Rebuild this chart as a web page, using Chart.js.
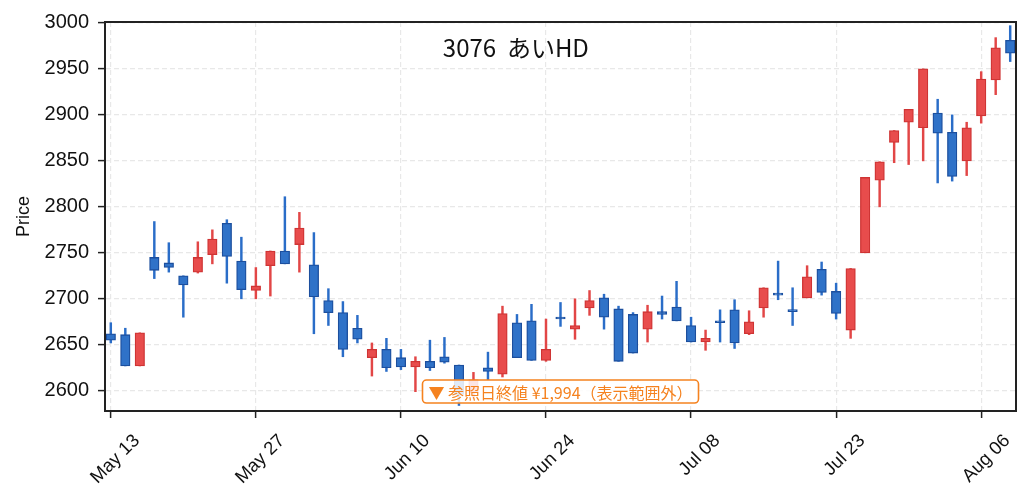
<!DOCTYPE html>
<html>
<head>
<meta charset="utf-8">
<title>3076 あいHD</title>
<script src="https://cdn.jsdelivr.net/npm/chart.js@4.4.0/dist/chart.umd.min.js"></script>
<style>
  html, body { margin: 0; padding: 0; background: #fff; }
  #wrap { width: 1031px; height: 500px; }
</style>
</head>
<body>
<div id="wrap"><canvas id="candleChart" width="1031" height="500"></canvas></div>
<script>
// daily candles, trading days only
const dates = [
  'May 13','May 14','May 15','May 16','May 17','May 20','May 21','May 22','May 23','May 24',
  'May 27','May 28','May 29','May 30','May 31','Jun 03','Jun 04','Jun 05','Jun 06','Jun 07',
  'Jun 10','Jun 11','Jun 12','Jun 13','Jun 14','Jun 17','Jun 18','Jun 19','Jun 20','Jun 21',
  'Jun 24','Jun 25','Jun 26','Jun 27','Jun 28','Jul 01','Jul 02','Jul 03','Jul 04','Jul 05',
  'Jul 08','Jul 09','Jul 10','Jul 11','Jul 12','Jul 16','Jul 17','Jul 18','Jul 19','Jul 22',
  'Jul 23','Jul 24','Jul 25','Jul 26','Jul 29','Jul 30','Jul 31','Aug 01','Aug 02','Aug 05',
  'Aug 06','Aug 07','Aug 08'
];
const opens = [
  2662,2661,2627,2745,2739,2725,2729,2748,2782,2741,
  2709,2736,2752,2759,2737,2698,2685,2668,2636,2645,
  2636,2626,2632,2637,2628,2598,2625,2618,2674,2676,
  2633,2679,2667,2690,2701,2689,2683,2667,2686,2691,
  2671,2653,2675,2688,2662,2690,2706,2687,2701,2732,
  2708,2666,2750,2829,2870,2892,2886,2902,2881,2850,
  2899,2938,2981
];
const highs = [
  2674,2668,2663,2784,2761,2725,2762,2775,2786,2767,
  2734,2752,2811,2794,2772,2711,2697,2682,2652,2657,
  2645,2637,2655,2658,2628,2620,2642,2692,2683,2694,
  2678,2696,2700,2709,2705,2692,2685,2693,2703,2719,
  2680,2666,2688,2699,2687,2712,2741,2712,2736,2740,
  2717,2733,2832,2849,2883,2906,2950,2917,2900,2892,
  2947,2984,2997
];
const lows = [
  2652,2627,2627,2722,2729,2680,2728,2738,2717,2700,
  2700,2703,2738,2729,2662,2671,2637,2652,2616,2621,
  2623,2599,2622,2630,2584,2592,2612,2615,2636,2633,
  2632,2670,2656,2682,2667,2632,2641,2653,2678,2676,
  2653,2644,2653,2646,2661,2680,2699,2671,2701,2704,
  2678,2657,2750,2800,2848,2846,2850,2826,2828,2834,
  2891,2922,2958
];
const closes = [
  2655,2627,2663,2731,2734,2715,2745,2765,2746,2710,
  2714,2752,2738,2777,2702,2685,2645,2656,2645,2625,
  2626,2632,2625,2631,2596,2612,2621,2684,2636,2633,
  2645,2678,2671,2698,2680,2632,2641,2686,2683,2676,
  2653,2657,2674,2652,2675,2712,2704,2686,2724,2707,
  2684,2733,2832,2849,2883,2906,2950,2880,2833,2886,
  2939,2973,2967
];
const xTicks = [0, 10, 20, 30, 40, 50, 60];
const yTicks = [2600, 2650, 2700, 2750, 2800, 2850, 2900, 2950, 3000];
const titleText = '3076  あいHD';
const refClose = 1994;

const upFill = '#e84c4c', upLine = '#cf3434', upWick = '#e24646';
const downFill = '#2f72c8', downLine = '#1c4f9e', downWick = '#2a6dc8';

const isUp = opens.map((o, i) => closes[i] >= o);
const bodyData = opens.map((o, i) => ({ x: i, y: [o, closes[i]] }));
const wickData = lows.map((l, i) => ({ x: i, y: [l, highs[i]] }));

// frame, title and the out-of-range note
const overlay = {
  id: 'overlay',
  afterDraw(chart) {
    const { ctx, chartArea: a } = chart;
    const w = a.right - a.left, h = a.bottom - a.top;
    ctx.save();
    ctx.setLineDash([]);
    ctx.strokeStyle = '#222';
    ctx.lineWidth = 2;
    ctx.strokeRect(a.left, a.top, w, h);

    ctx.fillStyle = '#111';
    ctx.font = '24px "Noto Sans CJK JP"';
    ctx.textAlign = 'center';
    ctx.textBaseline = 'middle';
    ctx.fillText(titleText, a.left + 0.451 * w, a.top + 0.067 * h);

    const note = '▼ 参照日終値 ¥' + refClose.toLocaleString('en-US') + '（表示範囲外）';
    ctx.font = '16px "Noto Sans CJK JP"';
    const tw = ctx.measureText(note).width;
    const bw = tw + 12, bh = 23;
    const cx = (a.left + a.right) / 2, cy = a.bottom - 0.05 * h;
    ctx.beginPath();
    ctx.roundRect(cx - bw / 2, cy - bh / 2, bw, bh, 4);
    ctx.fillStyle = 'rgba(255,255,255,0.85)';
    ctx.fill();
    ctx.strokeStyle = '#f5821f';
    ctx.lineWidth = 1.6;
    ctx.stroke();
    ctx.fillStyle = '#f5821f';
    ctx.textAlign = 'left';
    ctx.fillText(note, cx - bw / 2 + 6, cy + 1);
    ctx.restore();
  }
};

const gridOpts = {
  color: '#e8e8e8',
  lineWidth: 1.2,
  tickLength: 7,
  tickColor: '#222',
  tickWidth: 1.5,
  tickBorderDash: [],
  offset: false
};
const borderOpts = { display: true, color: '#222', width: 2, dash: [5, 3] };

const chart = new Chart(document.getElementById('candleChart').getContext('2d'), {
  type: 'bar',
  data: {
    datasets: [{
      label: 'wick',
      data: wickData,
      backgroundColor: isUp.map(u => u ? upWick : downWick),
      borderWidth: 0,
      barThickness: 1.8,
      grouped: false,
      order: 2
    }, {
      label: 'body',
      data: bodyData,
      backgroundColor: isUp.map(u => u ? upFill : downFill),
      borderColor: isUp.map(u => u ? upLine : downLine),
      borderWidth: 1.3,
      borderSkipped: false,
      barThickness: 9.5,
      minBarLength: 2,
      grouped: false,
      order: 1
    }]
  },
  options: {
    responsive: false,
    animation: false,
    devicePixelRatio: 1,
    layout: { padding: { left: 0, right: 15, top: 22, bottom: 0 } },
    plugins: { legend: { display: false }, tooltip: { enabled: false } },
    scales: {
      x: {
        type: 'linear',
        offset: false,
        min: -0.4,
        max: 62.4,
        afterBuildTicks: s => { s.ticks = xTicks.map(v => ({ value: v })); },
        afterFit: s => { s.height = 89; },
        ticks: {
          minRotation: 45,
          maxRotation: 45,
          autoSkip: false,
          labelOffset: 26,
          padding: 12,
          color: '#111',
          font: { family: '"Liberation Sans", Arial, sans-serif', size: 18.5 },
          callback: v => dates[v]
        },
        grid: gridOpts,
        border: borderOpts
      },
      y: {
        min: 2578,
        max: 3001,
        afterBuildTicks: s => { s.ticks = yTicks.map(v => ({ value: v })); },
        afterFit: s => { s.width = 105; },
        title: {
          display: true,
          text: 'Price',
          color: '#111',
          font: { family: '"Liberation Sans", Arial, sans-serif', size: 18 },
          padding: { top: 13, bottom: 0 }
        },
        ticks: {
          padding: 9,
          color: '#111',
          font: { family: '"Liberation Sans", Arial, sans-serif', size: 20 },
          callback: v => String(v)
        },
        grid: gridOpts,
        border: borderOpts
      }
    }
  },
  plugins: [overlay]
});
</script>
</body>
</html>
